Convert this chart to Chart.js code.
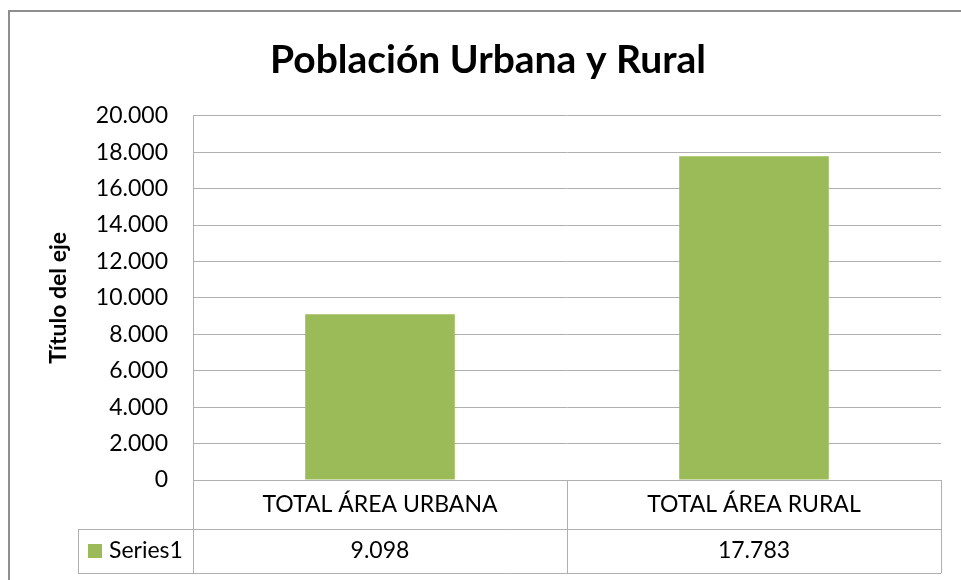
<!DOCTYPE html>
<html>
<head>
<meta charset="utf-8">
<script src="https://cdn.jsdelivr.net/npm/chart.js@4.4.1/dist/chart.umd.min.js"></script>
<style>
  html, body { margin: 0; padding: 0; background: #fff; overflow: hidden; }
</style>
</head>
<body>
<canvas id="graficoPoblacion" width="961" height="580"></canvas>
<script>
const categorias = ['TOTAL ÁREA URBANA', 'TOTAL ÁREA RURAL'];
const valores = [9098, 17783];
const nombreSerie = 'Series1';
const ejeMin = 0;
const ejeMax = 20000;
const ejePaso = 2000;

const VERDE = '#9bbb59';
const LINEA = '#b0b0b0';
const TEXTO = '#000';

// separador de miles con punto (9.098)
function formato(v) {
  return String(v).replace(/\B(?=(\d{3})+(?!\d))/g, '.');
}

Chart.defaults.font.family = 'Lato';

// marco exterior del gráfico
const marco = {
  id: 'marco',
  beforeDraw(chart) {
    const ctx = chart.ctx;
    ctx.save();
    ctx.fillStyle = '#fff';
    ctx.fillRect(0, 0, chart.width, chart.height);
    ctx.strokeStyle = '#8e8e8e';
    ctx.lineWidth = 2;
    ctx.beginPath();
    ctx.moveTo(9, chart.height);
    ctx.lineTo(9, 11);
    ctx.lineTo(chart.width, 11);
    ctx.stroke();
    ctx.restore();
  }
};

// tabla de datos debajo del eje X
const tabla = {
  id: 'tabla',
  afterDraw(chart) {
    const { ctx, chartArea, scales: { x } } = chart;
    const arriba = chartArea.bottom + 49;
    const abajo = arriba + 44;
    const izq = 78;
    ctx.save();
    ctx.strokeStyle = LINEA;
    ctx.lineWidth = 1;
    ctx.beginPath();
    ctx.moveTo(izq, arriba + 0.5); ctx.lineTo(x.right, arriba + 0.5);
    ctx.moveTo(izq, abajo + 0.5); ctx.lineTo(x.right, abajo + 0.5);
    ctx.moveTo(izq + 0.5, arriba); ctx.lineTo(izq + 0.5, abajo);
    ctx.stroke();

    const medio = (arriba + abajo) / 2;
    ctx.fillStyle = chart.data.datasets[0].backgroundColor;
    ctx.fillRect(izq + 10, medio - 7, 14, 14);

    ctx.font = '23px Lato';
    ctx.fillStyle = TEXTO;
    ctx.textBaseline = 'middle';
    ctx.textAlign = 'left';
    ctx.fillText(chart.data.datasets[0].label, izq + 31, medio);

    ctx.textAlign = 'center';
    chart.data.datasets[0].data.forEach((v, i) => {
      ctx.fillText(formato(v), x.getPixelForValue(i), medio);
    });
    ctx.restore();
  }
};

const ctx = document.getElementById('graficoPoblacion').getContext('2d');
new Chart(ctx, {
  type: 'bar',
  data: {
    labels: categorias,
    datasets: [{
      label: nombreSerie,
      data: valores,
      backgroundColor: VERDE,
      borderWidth: 0,
      barPercentage: 0.4,
      categoryPercentage: 1.0
    }]
  },
  options: {
    responsive: false,
    devicePixelRatio: 1,
    animation: false,
    layout: { padding: { top: 0, right: 20, bottom: 0, left: 35 } },
    plugins: {
      legend: { display: false },
      tooltip: { enabled: false },
      title: {
        display: true,
        text: 'Población Urbana y Rural',
        color: TEXTO,
        font: { size: 39, weight: 'bold' },
        padding: { top: 37, bottom: 32 }
      }
    },
    scales: {
      x: {
        grid: {
          offset: true,
          drawOnChartArea: false,
          drawTicks: true,
          tickLength: 93,
          color: LINEA
        },
        border: { display: true, color: LINEA },
        ticks: {
          color: TEXTO,
          font: { size: 23 },
          padding: -82,
          maxRotation: 0,
          autoSkip: false
        },
        afterFit(scale) { scale.height = 100; }
      },
      y: {
        min: ejeMin,
        max: ejeMax,
        grid: { color: LINEA, drawTicks: false },
        border: { display: true, color: LINEA },
        ticks: {
          stepSize: ejePaso,
          color: TEXTO,
          font: { size: 23 },
          padding: 25,
          callback: v => formato(v)
        },
        title: {
          display: true,
          text: 'Título del eje',
          color: TEXTO,
          font: { size: 23, weight: 'bold' },
          padding: { top: 10, bottom: 0 }
        },
        afterFit(scale) { scale.width = 158; }
      }
    }
  },
  plugins: [marco, tabla]
});
</script>
</body>
</html>
